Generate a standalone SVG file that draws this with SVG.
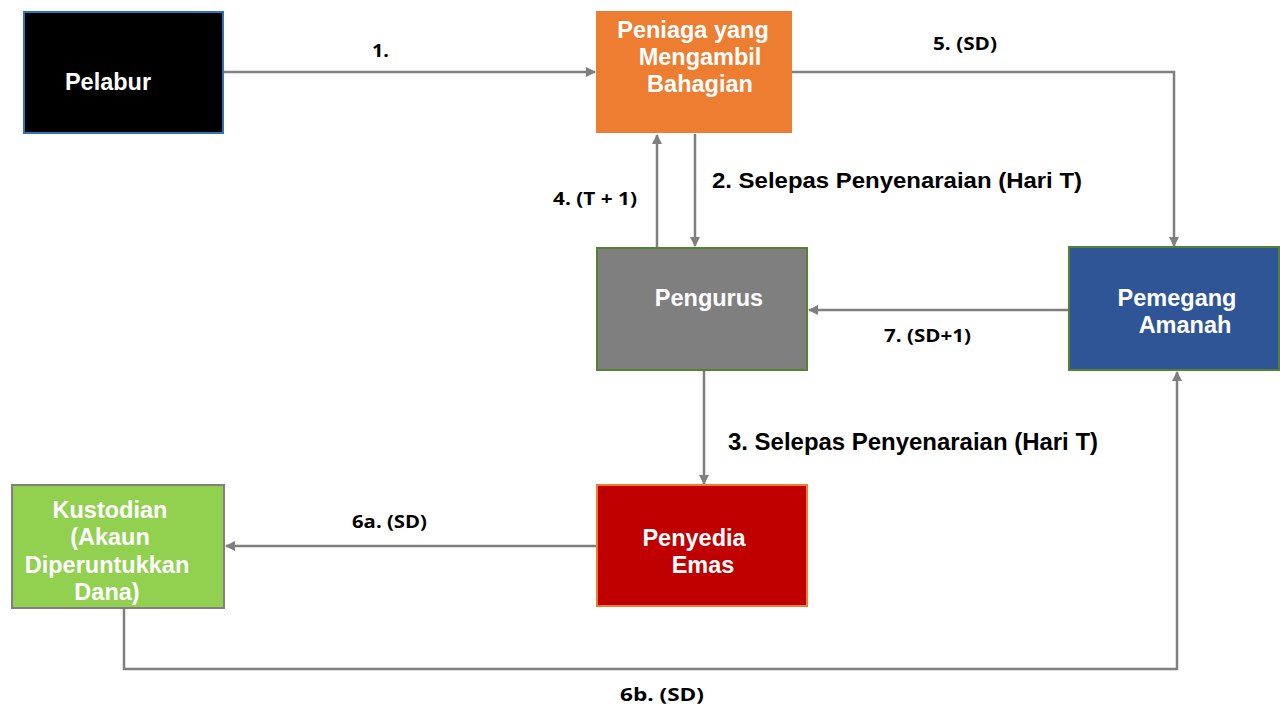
<svg xmlns="http://www.w3.org/2000/svg" width="1280" height="706" viewBox="0 0 1280 706">
<style>
.nt{font-family:"Liberation Sans",Arial,sans-serif;font-weight:bold;font-size:23.5px;fill:#fff;text-anchor:middle}
.lb{font-family:"Liberation Sans",Arial,sans-serif;font-weight:bold;font-size:22px;fill:#000}
.sl{font-family:"Open Sans","Liberation Sans",sans-serif;font-weight:bold;font-size:17px;fill:#000}
.cn{fill:none;stroke:#7F7F7F;stroke-width:2.5}
</style>
<defs>
<marker id="ah" viewBox="0 0 10 10" refX="9" refY="5" markerWidth="4" markerHeight="4" orient="auto" markerUnits="strokeWidth">
<path d="M0,0 L10,5 L0,10 z" fill="#7F7F7F"/>
</marker>
</defs>
<rect width="1280" height="706" fill="#fff"/>
<g id="connectors">
<path class="cn" d="M224,72 H595" marker-end="url(#ah)"/>
<path class="cn" d="M792,72 H1174 V246" marker-end="url(#ah)"/>
<path class="cn" d="M657,248 V135" marker-end="url(#ah)"/>
<path class="cn" d="M695,134 V246" marker-end="url(#ah)"/>
<path class="cn" d="M1069,310 H809" marker-end="url(#ah)"/>
<path class="cn" d="M704,371 V484" marker-end="url(#ah)"/>
<path class="cn" d="M596,546 H226" marker-end="url(#ah)"/>
<path class="cn" d="M124,609 V669 H1177 V372" marker-end="url(#ah)"/>
<text class="sl" x="372" y="57" textLength="17" lengthAdjust="spacingAndGlyphs">1.</text>
<text class="sl" x="933" y="50" textLength="64" lengthAdjust="spacingAndGlyphs">5. (SD)</text>
<text class="lb" x="712" y="188" textLength="370" lengthAdjust="spacingAndGlyphs">2. Selepas Penyenaraian (Hari T)</text>
<text class="sl" x="553" y="205" textLength="84" lengthAdjust="spacingAndGlyphs">4. (T + 1)</text>
<text class="sl" x="884" y="342" textLength="87" lengthAdjust="spacingAndGlyphs">7. (SD+1)</text>
<text class="lb" x="728" y="450" style="font-size:23px" textLength="370" lengthAdjust="spacingAndGlyphs">3. Selepas Penyenaraian (Hari T)</text>
<text class="sl" x="352" y="528" textLength="75" lengthAdjust="spacingAndGlyphs">6a. (SD)</text>
<text class="sl" x="620" y="701" textLength="84" lengthAdjust="spacingAndGlyphs">6b. (SD)</text>
</g>
<g id="pelabur">
<rect x="24" y="12" width="199" height="121" fill="#000" stroke="#2E75B6" stroke-width="2"/>
<text class="nt" x="108" y="90">Pelabur</text>
</g>
<g id="peniaga">
<rect x="596" y="11" width="196" height="122" fill="#ED7D31"/>
<text class="nt" x="693" y="38">Peniaga yang</text>
<text class="nt" x="700" y="65">Mengambil</text>
<text class="nt" x="700" y="92">Bahagian</text>
</g>
<g id="pengurus">
<rect x="597" y="248" width="210" height="122" fill="#7F7F7F" stroke="#548235" stroke-width="2"/>
<text class="nt" x="709" y="306">Pengurus</text>
</g>
<g id="pemegang">
<rect x="1069" y="247" width="210" height="123" fill="#2F5597" stroke="#548235" stroke-width="2"/>
<text class="nt" x="1177" y="306">Pemegang</text>
<text class="nt" x="1185" y="333">Amanah</text>
</g>
<g id="kustodian">
<rect x="12" y="485" width="212" height="123" fill="#92D050" stroke="#7F7F7F" stroke-width="2"/>
<text class="nt" x="110" y="518">Kustodian</text>
<text class="nt" x="110" y="545">(Akaun</text>
<text class="nt" x="107" y="573">Diperuntukkan</text>
<text class="nt" x="107" y="600">Dana)</text>
</g>
<g id="penyedia">
<rect x="597" y="485" width="210" height="121" fill="#C00000" stroke="#ED7D31" stroke-width="2"/>
<text class="nt" x="694" y="546">Penyedia</text>
<text class="nt" x="703" y="573">Emas</text>
</g>
</svg>
